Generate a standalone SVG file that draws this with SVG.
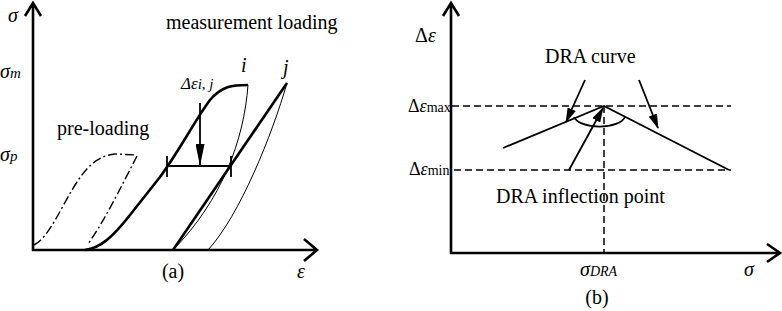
<svg xmlns="http://www.w3.org/2000/svg" width="782" height="311" viewBox="0 0 782 311">
<style>
text{font-family:"Liberation Serif","Times New Roman",serif;fill:#000}
.it{font-style:italic}
.ax{fill:none;stroke:#000;stroke-width:2.6;stroke-linecap:butt}
.thick{fill:none;stroke:#000;stroke-width:2.6}
.thin{fill:none;stroke:#000;stroke-width:1}
.dd{fill:none;stroke:#000;stroke-width:1.4;stroke-dasharray:9 3 2 3}
.ln{fill:none;stroke:#000;stroke-width:1.8}
.dash{fill:none;stroke:#000;stroke-width:1.5;stroke-dasharray:7 4}
</style>
<defs>
<marker id="ah" markerUnits="userSpaceOnUse" markerWidth="15" markerHeight="9" refX="14" refY="4.5" orient="auto">
<path d="M0,0 L15,4.5 L0,9 z" fill="#000"/>
</marker>
<marker id="ah2" markerUnits="userSpaceOnUse" markerWidth="22" markerHeight="9" refX="22" refY="4.5" orient="auto">
<path d="M0,0 L22,4.5 L0,9 z" fill="#000"/>
</marker>
</defs>

<g id="panel-a">
<g id="axes-a">
<path class="ax" d="M33,251 L33,3 M25,16 L33,3 L41,16"/>
<path class="ax" d="M32,250 L317,250 M304,239 L317,250 L304,261"/>
</g>
<g id="labels-a">
<text class="it" x="8" y="22" font-size="20">σ</text>
<text x="0" y="78" font-size="20"><tspan class="it">σ</tspan><tspan class="it" font-size="15">m</tspan></text>
<text x="0" y="161" font-size="20"><tspan class="it">σ</tspan><tspan class="it" font-size="15">p</tspan></text>
<text x="166" y="29" font-size="20">measurement loading</text>
<text x="57" y="135" font-size="20">pre-loading</text>
<text class="it" x="181" y="89" font-size="17">Δε<tspan font-size="15">i, j</tspan></text>
<text class="it" x="241" y="72" font-size="20">i</text>
<text class="it" x="283" y="74" font-size="20">j</text>
<text class="it" x="297" y="278" font-size="20">ε</text>
<text x="173" y="278" font-size="20" text-anchor="middle">(a)</text>
</g>
<g id="curves-a">
<path class="dd" d="M34,245 C48,238 60,210 72,190 S95,156 115,154 L137,155"/>
<path class="dd" d="M137,156 C122,185 105,220 88,244"/>
<path class="thick" d="M85,250 C100,248 112,238 130,215 L160,177 C180,150 195,120 210,100 C222,86 232,85 248,85"/>
<path class="thin" d="M248,85 C244,140 222,200 173,250"/>
<path class="thick" d="M173,250 L287,83"/>
<path class="thin" d="M287,83 C272,135 240,215 208,250"/>
</g>
<g id="delta-bar">
<path class="ln" d="M167,166 L231,166 M167,156 L167,177 M231,156 L231,177"/>
<path class="ln" d="M200,103 L200,166" marker-end="url(#ah2)"/>
</g>
</g>

<g id="panel-b">
<g id="axes-b">
<path class="ax" d="M451,254 L451,3 M443,16 L451,3 L459,16"/>
<path class="ax" d="M450,253 L780,253 M767,244 L780,253 L767,262"/>
</g>
<g id="guides-b">
<path class="dash" d="M452,106 L731,106"/>
<path class="dash" d="M454,170 L731,170"/>
<path class="dash" d="M604,106 L604,253"/>
</g>
<g id="curve-b">
<path class="ln" d="M503,148 L604,106 L729,170"/>
<path class="ln" d="M574,117 A26,12 0 0 0 625,117"/>
</g>
<g id="connectors">
<path class="ln" d="M585,80 L566,122" marker-end="url(#ah)"/>
<path class="ln" d="M639,80 L658,128" marker-end="url(#ah)"/>
<path class="ln" d="M569,170 L603,108" marker-end="url(#ah)"/>
</g>
<g id="labels-b">
<text x="415" y="42" font-size="20">Δ<tspan class="it">ε</tspan></text>
<text x="408" y="112" font-size="18">Δ<tspan class="it">ε</tspan><tspan font-size="14">max</tspan></text>
<text x="409" y="175" font-size="18">Δ<tspan class="it">ε</tspan><tspan font-size="14">min</tspan></text>
<text x="545" y="63" font-size="20">DRA curve</text>
<text x="496" y="203" font-size="20">DRA inflection point</text>
<text x="580" y="276" font-size="20"><tspan class="it">σ</tspan><tspan class="it" font-size="14">DRA</tspan></text>
<text class="it" x="744" y="276" font-size="20">σ</text>
<text x="597" y="304" font-size="20" text-anchor="middle">(b)</text>
</g>
</g>
</svg>
